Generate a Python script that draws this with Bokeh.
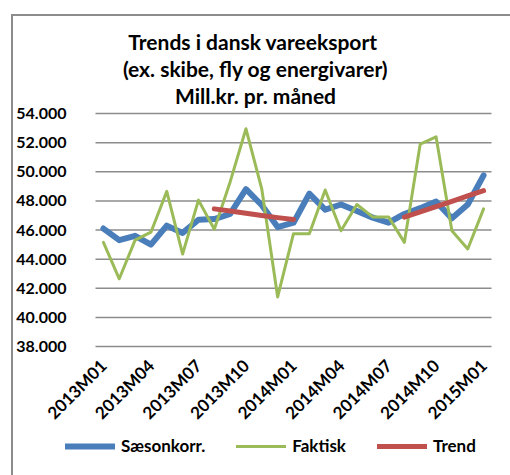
import math
from bokeh.plotting import figure
from bokeh.layouts import column
from bokeh.models import Range1d, FixedTicker, Legend, LegendItem, Label
from bokeh.embed import file_html
from bokeh.resources import INLINE

months = ["2013M01", "2013M02", "2013M03", "2013M04", "2013M05", "2013M06",
          "2013M07", "2013M08", "2013M09", "2013M10", "2013M11", "2013M12",
          "2014M01", "2014M02", "2014M03", "2014M04", "2014M05", "2014M06",
          "2014M07", "2014M08", "2014M09", "2014M10", "2014M11", "2014M12",
          "2015M01"]
saesonkorr = [46100, 45300, 45600, 45000, 46300, 45800, 46700, 46750, 47100, 48800,
              47700, 46200, 46500, 48500, 47400, 47750, 47300, 46850, 46500, 47100,
              47500, 47950, 46800, 47750, 49750]
faktisk = [45150, 42650, 45300, 45850, 48650, 44350, 48050, 46050, 49300, 52950,
           48800, 41400, 45750, 45750, 48750, 45950, 47750, 46900, 46900, 45150,
           51900, 52400, 45950, 44700, 47450]
nan = float("nan")
trend = [nan, nan, nan, nan, nan, nan, nan, 47450, 47300, 47150, 47000, 46850,
         46720, nan, nan, nan, nan, nan, nan, 46880, 47250, 47610, 47970, 48340,
         48700]
shown_months = ["2013M01", "2013M04", "2013M07", "2013M10", "2014M01", "2014M04",
                "2014M07", "2014M10", "2015M01"]
y_ticks = [38000, 40000, 42000, 44000, 46000, 48000, 50000, 52000, 54000]
y_tick_labels = ["38.000", "40.000", "42.000", "44.000", "46.000", "48.000",
                 "50.000", "52.000", "54.000"]
title_lines = ["Trends i  dansk vareeksport", "(ex. skibe, fly og energivarer)",
               "Mill.kr. pr. måned"]
series_names = ["Sæsonkorr.", "Faktisk", "Trend"]
series_colors = ["#4A7EBB", "#9BBB59", "#C0504D"]
series_widths = [6, 3, 5]

FONT = "Lato"
GRAY = "#8c8c8c"
W, H = 510, 475
# plot-area placement in pixels (the canvas itself is one big frame)
PA_LEFT, PA_RIGHT, PA_TOP, PA_BOTTOM = 95, 491, 113, 346

x = list(range(len(months)))
series = [saesonkorr, faktisk, trend]
x_lo, x_hi = -0.5, len(months) - 0.5
kx = (PA_RIGHT - PA_LEFT) / (x_hi - x_lo)
ky = (PA_BOTTOM - PA_TOP) / (y_ticks[-1] - y_ticks[0])
x_range = Range1d(x_lo - PA_LEFT / kx, x_hi + (W - PA_RIGHT) / kx)
y_range = Range1d(y_ticks[0] - (H - PA_BOTTOM) / ky, y_ticks[-1] + PA_TOP / ky)

p = figure(width=W, height=H, output_backend="svg", toolbar_location=None,
           x_range=x_range, y_range=y_range, min_border=0, min_border_left=0,
           min_border_right=0, min_border_top=0, min_border_bottom=0)
p.outline_line_color = None
p.background_fill_color = None
p.border_fill_color = None
p.grid.grid_line_color = None

# axes pinned to the plot-area edges
p.xaxis.fixed_location = y_ticks[0]
p.yaxis.fixed_location = x_lo
p.xaxis.ticker = FixedTicker(ticks=[months.index(m) for m in shown_months])
p.xaxis.major_label_overrides = {months.index(m): m for m in shown_months}
p.xaxis.major_label_orientation = math.pi / 4
p.xaxis.major_label_standoff = 10
p.yaxis.ticker = FixedTicker(ticks=y_ticks)
p.yaxis.major_label_overrides = dict(zip(y_ticks, y_tick_labels))
p.yaxis.major_label_standoff = 23
for ax, fs in ((p.xaxis[0], "17px"), (p.yaxis[0], "16px")):
    ax.axis_line_color = None
    ax.major_tick_line_color = None
    ax.minor_tick_line_color = None
    ax.major_label_text_font = FONT
    ax.major_label_text_font_style = "bold"
    ax.major_label_text_font_size = fs
    ax.major_label_text_color = "black"

# horizontal gridlines across the plot area
p.segment(x0=[x_lo] * len(y_ticks), y0=y_ticks, x1=[x_hi] * len(y_ticks),
          y1=y_ticks, line_color=GRAY, line_width=1.5)

renderers = []
for ys, c, w in zip(series, series_colors, series_widths):
    renderers.append(p.line(x, ys, line_color=c, line_width=w, line_join="round",
                            line_cap="round"))

# title lines
for txt, base in zip(title_lines, [40.5, 67.5, 94.5]):
    p.add_layout(Label(x=255, y=H - base, x_units="screen", y_units="screen",
                       text=txt, text_align="center", text_baseline="alphabetic",
                       text_font=FONT, text_font_style="bold",
                       text_font_size="21px", text_color="black"))

legend = Legend(items=[LegendItem(label=n, renderers=[r])
                       for n, r in zip(series_names, renderers)],
                orientation="horizontal", location=(65, 19),
                padding=0, margin=0, spacing=31, glyph_width=50, glyph_height=20,
                label_standoff=6, label_height=20, label_text_font=FONT,
                label_text_font_style="bold", label_text_font_size="17px",
                label_text_color="black", border_line_color=None,
                background_fill_alpha=0)
p.add_layout(legend)

# chart-area border (left and top edges) drawn as the layout's background
border_css = {
    "background-image": f"linear-gradient({GRAY}, {GRAY}), linear-gradient({GRAY}, {GRAY})",
    "background-size": "2px calc(100% - 14px), calc(100% - 11px) 2px",
    "background-position": "11px 14px, 11px 14px",
    "background-repeat": "no-repeat",
}
layout = column(p, styles=border_css)
open("out.html", "w").write(file_html(layout, INLINE))
